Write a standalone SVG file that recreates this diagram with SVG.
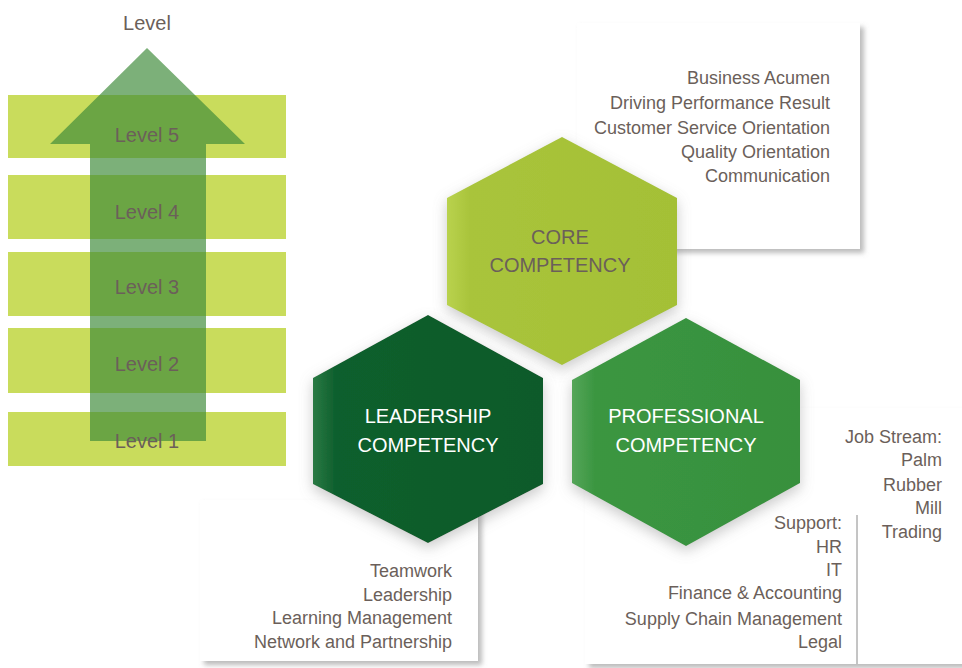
<svg xmlns="http://www.w3.org/2000/svg" width="962" height="668" viewBox="0 0 962 668">
<defs>
<style>
.t{font-family:"Liberation Sans",Arial,sans-serif;font-size:18px;fill:#6b5f5a}
.lv{font-family:"Liberation Sans",Arial,sans-serif;font-size:20px;fill:#6b5f5a;text-anchor:middle}
.hx{font-family:"Liberation Sans",Arial,sans-serif;font-size:20px;text-anchor:middle}
.r{text-anchor:end}
.bar{fill:#c9dc5c}
.box{fill:#ffffff;filter:url(#boxsh)}
</style>
<filter id="boxsh" x="-10%" y="-10%" width="130%" height="130%">
<feDropShadow dx="4" dy="4" stdDeviation="2.5" flood-color="#7a7a7a" flood-opacity="0.5"/>
</filter>
<filter id="hexsh" x="-20%" y="-20%" width="140%" height="140%">
<feDropShadow dx="0" dy="5" stdDeviation="7" flood-color="#8a8a8a" flood-opacity="0.45"/>
</filter>
<linearGradient id="gCore" x1="0" y1="0" x2="1" y2="0">
<stop offset="0" stop-color="#b9d24e"/><stop offset="0.1" stop-color="#a9c43b"/><stop offset="1" stop-color="#a4c036"/>
</linearGradient>
<linearGradient id="gLead" x1="0" y1="0" x2="1" y2="0">
<stop offset="0" stop-color="#2a7a44"/><stop offset="0.1" stop-color="#0e5f2d"/><stop offset="1" stop-color="#0b5a2a"/>
</linearGradient>
<linearGradient id="gProf" x1="0" y1="0" x2="1" y2="0">
<stop offset="0" stop-color="#55a65a"/><stop offset="0.1" stop-color="#3b9641"/><stop offset="1" stop-color="#37903d"/>
</linearGradient>
</defs>
<rect width="962" height="668" fill="#ffffff"/>

<g id="levels">
<text class="lv" x="147" y="30">Level</text>
<rect class="bar" x="8" y="95" width="278" height="63"/>
<rect class="bar" x="8" y="175" width="278" height="64"/>
<rect class="bar" x="8" y="252" width="278" height="64"/>
<rect class="bar" x="8" y="328" width="278" height="65"/>
<rect class="bar" x="8" y="412" width="278" height="54"/>
<polygon points="147,48 245,144 206,144 206,441 90,441 90,144 50,144" fill="#3e8b3a" fill-opacity="0.68"/>
<text class="lv" x="147" y="142">Level 5</text>
<text class="lv" x="147" y="219">Level 4</text>
<text class="lv" x="147" y="294">Level 3</text>
<text class="lv" x="147" y="371">Level 2</text>
<text class="lv" x="147" y="448">Level 1</text>
</g>

<g id="core-box">
<rect class="box" x="577" y="23" width="283" height="226"/>
<text class="t r" x="830" y="84">Business Acumen</text>
<text class="t r" x="830" y="109">Driving Performance Result</text>
<text class="t r" x="830" y="134">Customer Service Orientation</text>
<text class="t r" x="830" y="158">Quality Orientation</text>
<text class="t r" x="830" y="182">Communication</text>
</g>

<g id="leadership-box">
<rect class="box" x="200" y="500" width="278" height="161"/>
<text class="t r" x="452" y="577">Teamwork</text>
<text class="t r" x="452" y="601">Leadership</text>
<text class="t r" x="452" y="624">Learning Management</text>
<text class="t r" x="452" y="648">Network and Partnership</text>
</g>

<g id="professional-box">
<rect class="box" x="585" y="408" width="390" height="256"/>
<line x1="857" y1="515" x2="857" y2="664" stroke="#8a8a8a" stroke-width="1"/>
<text class="t r" x="942" y="443">Job Stream:</text>
<text class="t r" x="942" y="466">Palm</text>
<text class="t r" x="942" y="491">Rubber</text>
<text class="t r" x="942" y="514">Mill</text>
<text class="t r" x="942" y="538">Trading</text>
<text class="t r" x="842" y="529">Support:</text>
<text class="t r" x="842" y="553">HR</text>
<text class="t r" x="842" y="576">IT</text>
<text class="t r" x="842" y="599">Finance &amp; Accounting</text>
<text class="t r" x="842" y="625">Supply Chain Management</text>
<text class="t r" x="842" y="648">Legal</text>
</g>

<g id="core">
<polygon points="562,137 677,198 677,305 562,365 447,305 447,198" fill="url(#gCore)" filter="url(#hexsh)"/>
<text class="hx" x="560" y="244" fill="#6b5f5a">CORE</text>
<text class="hx" x="560" y="272" fill="#6b5f5a">COMPETENCY</text>
</g>

<g id="leadership">
<polygon points="428,315 543,378 543,484 428,543 313,484 313,378" fill="url(#gLead)" filter="url(#hexsh)"/>
<text class="hx" x="428" y="423" fill="#ffffff">LEADERSHIP</text>
<text class="hx" x="428" y="452" fill="#ffffff">COMPETENCY</text>
</g>

<g id="professional">
<polygon points="686,318 800,380 800,483 686,546 572,483 572,380" fill="url(#gProf)" filter="url(#hexsh)"/>
<text class="hx" x="686" y="423" fill="#ffffff">PROFESSIONAL</text>
<text class="hx" x="686" y="452" fill="#ffffff">COMPETENCY</text>
</g>

<g id="connectors"></g>
</svg>
